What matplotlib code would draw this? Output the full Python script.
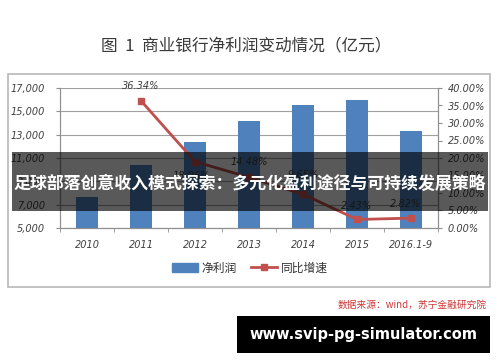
import matplotlib
matplotlib.use("Agg")
import matplotlib.pyplot as plt
from matplotlib.patches import Rectangle
from matplotlib.lines import Line2D

plt.rcParams['font.family'] = ['Noto Sans CJK SC', 'DejaVu Sans']

years = ['2010', '2011', '2012', '2013', '2014', '2015', '2016.1-9']
profit = [7640, 10410, 12390, 14180, 15550, 15930, 13290]
growth_years = ['2011', '2012', '2013', '2014', '2015', '2016.1-9']
growth = [36.34, 18.96, 14.48, 9.65, 2.43, 2.82]
# label offsets in points (dx, dy)
label_off = [(0, 11), (-3, -10), (0, 11), (0, 14), (0, 10), (-4, 10)]

W, H = 500, 362
BLUE = '#4F81BD'
RED = '#C0504D'
GRAY = '#404040'


def fx(x):
    return x / W


def fy(y):
    return 1 - y / H


fig = plt.figure(figsize=(5, 3.62), dpi=100)
fig.patch.set_facecolor('white')

# chart frame
fig.add_artist(Rectangle((fx(8), fy(287)), fx(490) - fx(8), fy(74) - fy(287),
                         transform=fig.transFigure, fill=False,
                         edgecolor='#b8b8b8', linewidth=1.2))

fig.text(fx(246), fy(47), '图  1  商业银行净利润变动情况（亿元）', ha='center', va='center',
         fontsize=12, color='#3a3a3a')

ax = fig.add_axes([fx(60), fy(228), fx(438) - fx(60), fy(88) - fy(228)])
x = list(range(len(years)))
ax.bar(x, profit, width=0.4, color=BLUE, zorder=2)
ax.set_xlim(-0.5, len(years) - 0.5)
ax.set_ylim(5000, 17000)
ax.set_yticks(range(5000, 17001, 2000))
ax.set_yticklabels(['{:,}'.format(v) for v in range(5000, 17001, 2000)])
ax.set_xticks(x)
ax.set_xticklabels(years)
ax.set_xticks([i - 0.5 for i in range(len(years) + 1)], minor=True)
ax.tick_params(axis='x', which='major', length=0, pad=9)
ax.tick_params(axis='x', which='minor', length=3, color='#909090')
ax.tick_params(axis='y', length=3, color='#909090', pad=8)
ax.grid(axis='y', color='#a0a0a0', linewidth=0.8, zorder=0)
ax.spines['top'].set_visible(False)
for s in ['left', 'right', 'bottom']:
    ax.spines[s].set_color('#909090')
    ax.spines[s].set_linewidth(0.8)
for lab in ax.get_xticklabels() + ax.get_yticklabels():
    lab.set_fontstyle('italic')
    lab.set_fontsize(7)
    lab.set_color(GRAY)
    lab.set_family('DejaVu Sans')

ax2 = ax.twinx()
gx = [years.index(y) for y in growth_years]
ax2.plot(gx, [g / 100 for g in growth], color=RED, linewidth=2, marker='s',
         markersize=5, zorder=3)
ax2.set_ylim(0, 0.40)
ax2.set_yticks([i * 0.05 for i in range(9)])
ax2.set_yticklabels(['{:.2f}%'.format(i * 5) for i in range(9)])
ax2.tick_params(axis='y', length=3, color='#909090', pad=4)
ax2.spines['top'].set_visible(False)
for s in ['left', 'right', 'bottom']:
    ax2.spines[s].set_color('#909090')
    ax2.spines[s].set_linewidth(0.8)
for lab in ax2.get_yticklabels():
    lab.set_fontstyle('italic')
    lab.set_fontsize(7)
    lab.set_color(GRAY)
    lab.set_family('DejaVu Sans')
for xi, g, off in zip(gx, growth, label_off):
    ax2.annotate('{:.2f}%'.format(g), (xi, g / 100), xytext=off,
                 textcoords='offset points', ha='center', va='center',
                 fontsize=7, fontstyle='italic', color=GRAY, family='DejaVu Sans')

# legend
handles = [Rectangle((0, 0), 1, 1, color=BLUE),
           Line2D([], [], color=RED, linewidth=2, marker='s', markersize=5)]
fig.legend(handles, ['净利润', '同比增速'], loc='center', bbox_to_anchor=(0.5, fy(268)),
           ncol=2, frameon=False, fontsize=8.5, handlelength=2.2, columnspacing=1.2,
           handletextpad=0.3, labelcolor='#333333')

# overlay banner
fig.add_artist(Rectangle((fx(12), fy(211)), fx(488) - fx(12), fy(152) - fy(211),
                         transform=fig.transFigure, color='black', alpha=0.65,
                         linewidth=0, zorder=10))
fig.text(fx(250), fy(184), '足球部落创意收入模式探索：多元化盈利途径与可持续发展策略',
         ha='center', va='center', fontsize=12.2, fontweight='bold', color='white',
         zorder=11)

# source note
fig.text(fx(487), fy(305), '数据来源：wind，苏宁金融研究院', ha='right', va='center',
         fontsize=7, fontstyle='italic', color='#D03838')

# watermark
fig.add_artist(Rectangle((fx(237), fy(353)), fx(490) - fx(237), fy(316) - fy(353),
                         transform=fig.transFigure, color='black', linewidth=0, zorder=10))
fig.text(fx(363), fy(335), 'www.svip-pg-simulator.com', ha='center', va='center',
         fontsize=10.5, fontweight='bold', color='white', family='DejaVu Sans', zorder=11)

fig.savefig('out.png', dpi=100)
